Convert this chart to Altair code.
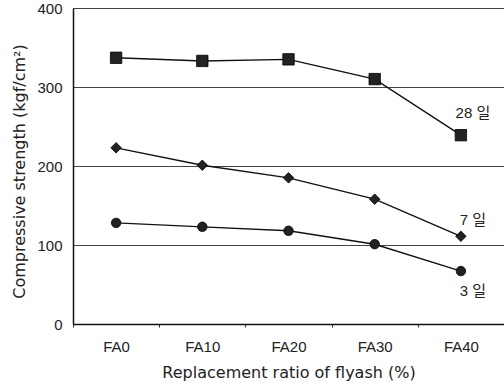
import altair as alt
import pandas as pd

categories = ["FA0", "FA10", "FA20", "FA30", "FA40"]
day28 = [337, 333, 335, 310, 239]
day7 = [223, 201, 185, 158, 111]
day3 = [128, 123, 118, 101, 67]
series_names = ["28 일", "7 일", "3 일"]

rows = []
for name, vals in zip(series_names, [day28, day7, day3]):
    for c, v in zip(categories, vals):
        rows.append({"cat": c, "val": v, "series": name})
df = pd.DataFrame(rows)

FONT = "Liberation Sans"
TFONT = "DejaVu Sans"
x_enc = alt.X("cat:N", sort=categories, scale=alt.Scale(paddingInner=0, paddingOuter=0),
              axis=alt.Axis(title="Replacement ratio of flyash (%)", labelAngle=0,
                            tickBand="extent", tickSize=3, tickColor="#222", domainColor="#111",
                            domainWidth=1.5, labelFont=FONT, labelFontSize=15, labelColor="#222",
                            labelPadding=12, titleFont=TFONT, titleFontSize=16, titleFontWeight="normal",
                            titleColor="#222", titlePadding=10, grid=False))
y_enc = alt.Y("val:Q", scale=alt.Scale(domain=[0, 400]),
              axis=alt.Axis(title="Compressive strength (kgf/cm²)", values=[0, 100, 200, 300, 400],
                            ticks=False, domainColor="#111", domainWidth=1.5, labelFont=FONT,
                            labelFontSize=15, labelColor="#222", labelPadding=11,
                            titleFont=TFONT, titleFontSize=16, titleFontWeight="normal", titleColor="#222",
                            titleX=-54, titleY=163, titleAngle=270, titleAlign="center",
                            titleBaseline="middle", grid=True, gridColor="#444", gridWidth=1))

base = alt.Chart(df).encode(x=x_enc, y=y_enc)

lines = base.mark_line(color="#111", strokeWidth=1.4).encode(detail="series:N")

shape_scale = alt.Scale(domain=series_names, range=["square", "diamond", "circle"])
size_scale = alt.Scale(domain=series_names, range=[130, 90, 70])
points = base.mark_point(filled=True, color="#222", opacity=1, stroke="#000", strokeWidth=0.8).encode(
    shape=alt.Shape("series:N", scale=shape_scale, legend=None),
    size=alt.Size("series:N", scale=size_scale, legend=None),
)

label_font = "Liberation Sans, Noto Sans CJK KR"
offsets = {"28 일": (12, -22), "7 일": (12, -16), "3 일": (12, 20)}
labels = []
for name in series_names:
    dx, dy = offsets[name]
    labels.append(
        base.transform_filter((alt.datum.series == name) & (alt.datum.cat == categories[-1]))
        .mark_text(font=label_font, fontSize=15, color="#222", dx=dx, dy=dy)
        .encode(text="series:N")
    )

chart = alt.layer(lines, points, *labels).properties(
    width=431, height=316,
    autosize=alt.AutoSizeParams(type="none"),
    padding={"left": 73, "top": 8, "right": 0, "bottom": 63},
).configure_view(stroke=None).configure(background="white")

chart.save("out.html", embed_options={"renderer": "svg", "actions": False})
